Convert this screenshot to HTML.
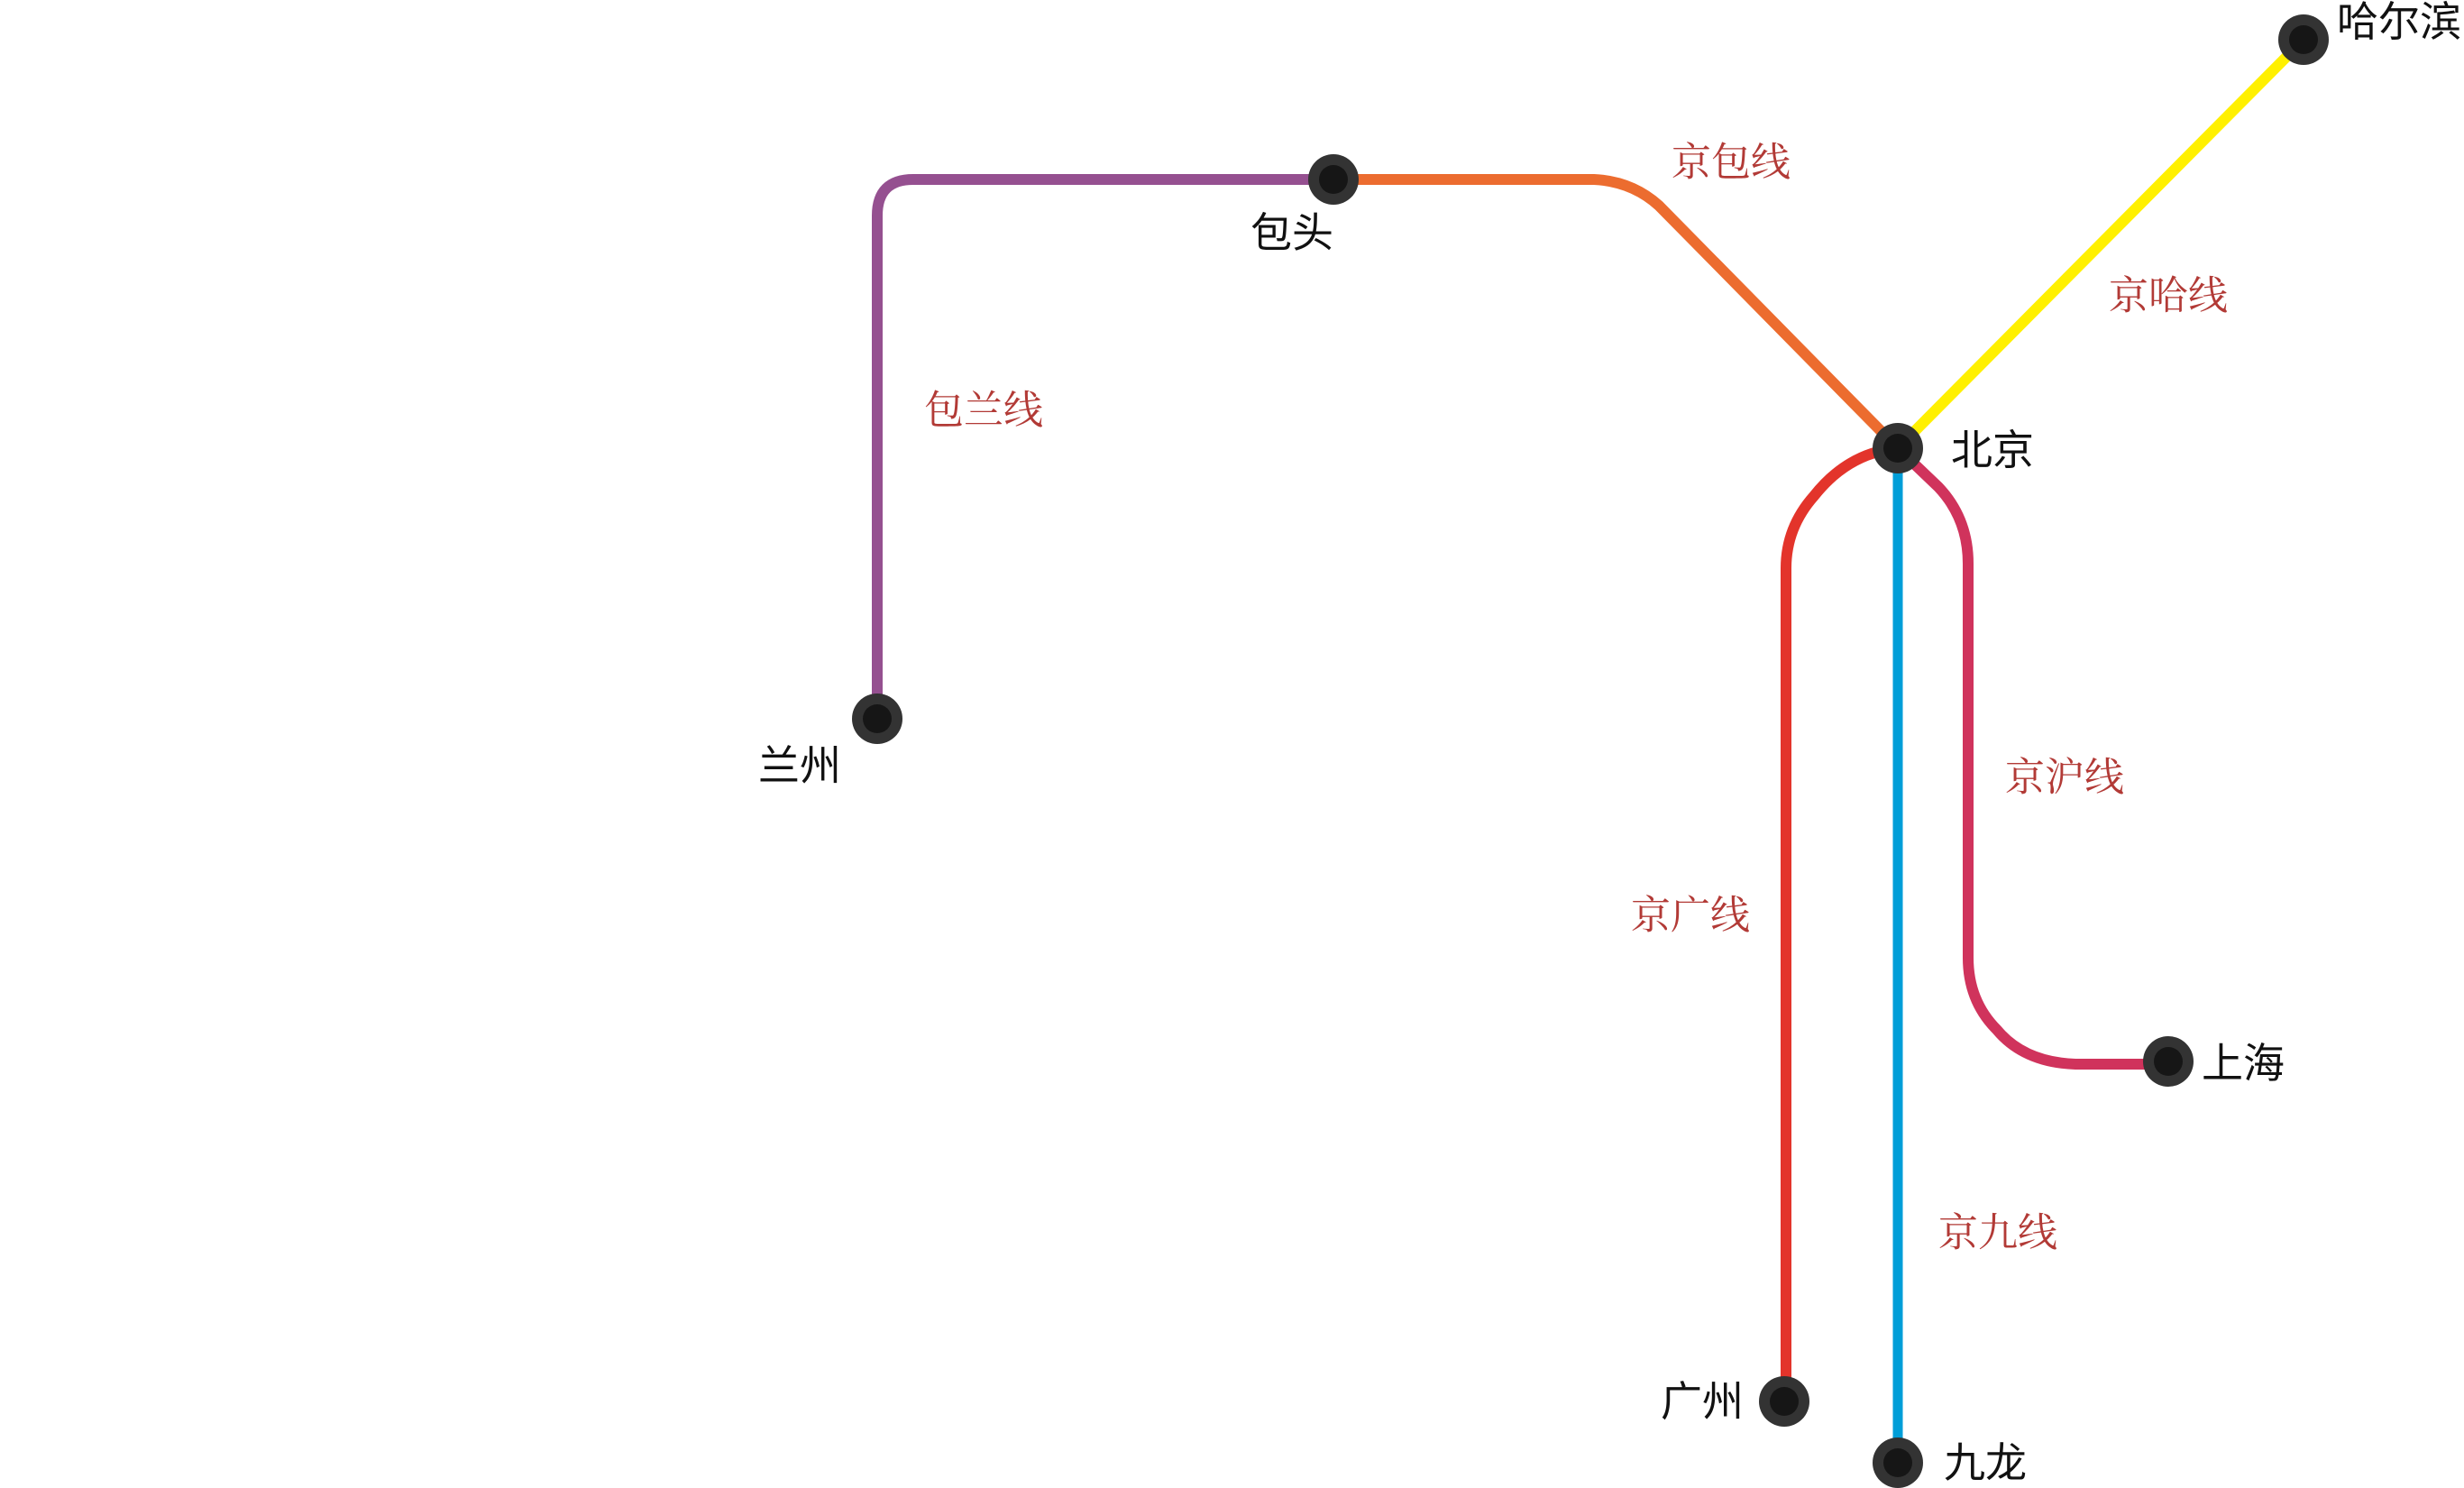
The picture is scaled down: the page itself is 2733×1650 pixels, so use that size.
<!DOCTYPE html>
<html><head><meta charset="utf-8"><style>
html,body{margin:0;padding:0;background:#fff;}
svg{display:block;}
.l{font-family:"Liberation Serif","Noto Serif CJK SC",serif;font-size:44px;fill:#b23a36;dominant-baseline:central;}
.s{font-family:"Liberation Sans","Noto Sans CJK SC",sans-serif;font-size:46px;fill:#111;dominant-baseline:central;}
</style></head><body>
<svg width="2733" height="1650" viewBox="0 0 2733 1650" xmlns="http://www.w3.org/2000/svg">
<g fill="none" stroke-width="12" stroke-linecap="butt">
<path d="M1479,199 L1013,199 Q973,199 973,239 L973,797" stroke="#955090"/>
<path d="M1479,199 L1768,199 Q1810,201 1840,228 L2105,497" stroke="#ec6c2f"/>
<path d="M2105,497 L2555,44" stroke="#fff000"/>
<path d="M2105,497 Q2050,502 2012,550 Q1981,585 1981,630 L1981,1554" stroke="#e3342b"/>
<path d="M2105,497 L2150,540 Q2183,575 2183,625 L2183,1062 Q2183,1110 2215,1142 Q2245,1178 2302,1180 L2405,1180" stroke="#d0335c"/>
<path d="M2105,497 L2105,1622" stroke="#009ed8" stroke-width="11"/>
</g>
<g fill="#333">
<circle cx="2555" cy="44" r="28"/><circle cx="1479" cy="199" r="28"/><circle cx="973" cy="797" r="28"/>
<circle cx="2105" cy="497" r="28"/><circle cx="2405" cy="1177" r="28"/><circle cx="1979" cy="1554" r="28"/><circle cx="2105" cy="1622" r="28"/>
</g>
<g fill="#161616">
<circle cx="2555" cy="44" r="16"/><circle cx="1479" cy="199" r="16"/><circle cx="973" cy="797" r="16"/>
<circle cx="2105" cy="497" r="16"/><circle cx="2405" cy="1177" r="16"/><circle cx="1979" cy="1554" r="16"/><circle cx="2105" cy="1622" r="16"/>
</g>
<text class="l" x="1854" y="180">京包线</text>
<text class="l" x="2339" y="328">京哈线</text>
<text class="l" x="1025" y="455">包兰线</text>
<text class="l" x="2224" y="862">京沪线</text>
<text class="l" x="1809" y="1015">京广线</text>
<text class="l" x="2150" y="1367">京九线</text>
<text class="s" x="2164" y="499">北京</text>
<text class="s" x="2592" y="24">哈尔滨</text>
<text class="s" x="1387" y="258">包头</text>
<text class="s" x="841" y="849">兰州</text>
<text class="s" x="2442" y="1179">上海</text>
<text class="s" x="1842" y="1554">广州</text>
<text class="s" x="2156" y="1622">九龙</text>
</svg>
</body></html>
